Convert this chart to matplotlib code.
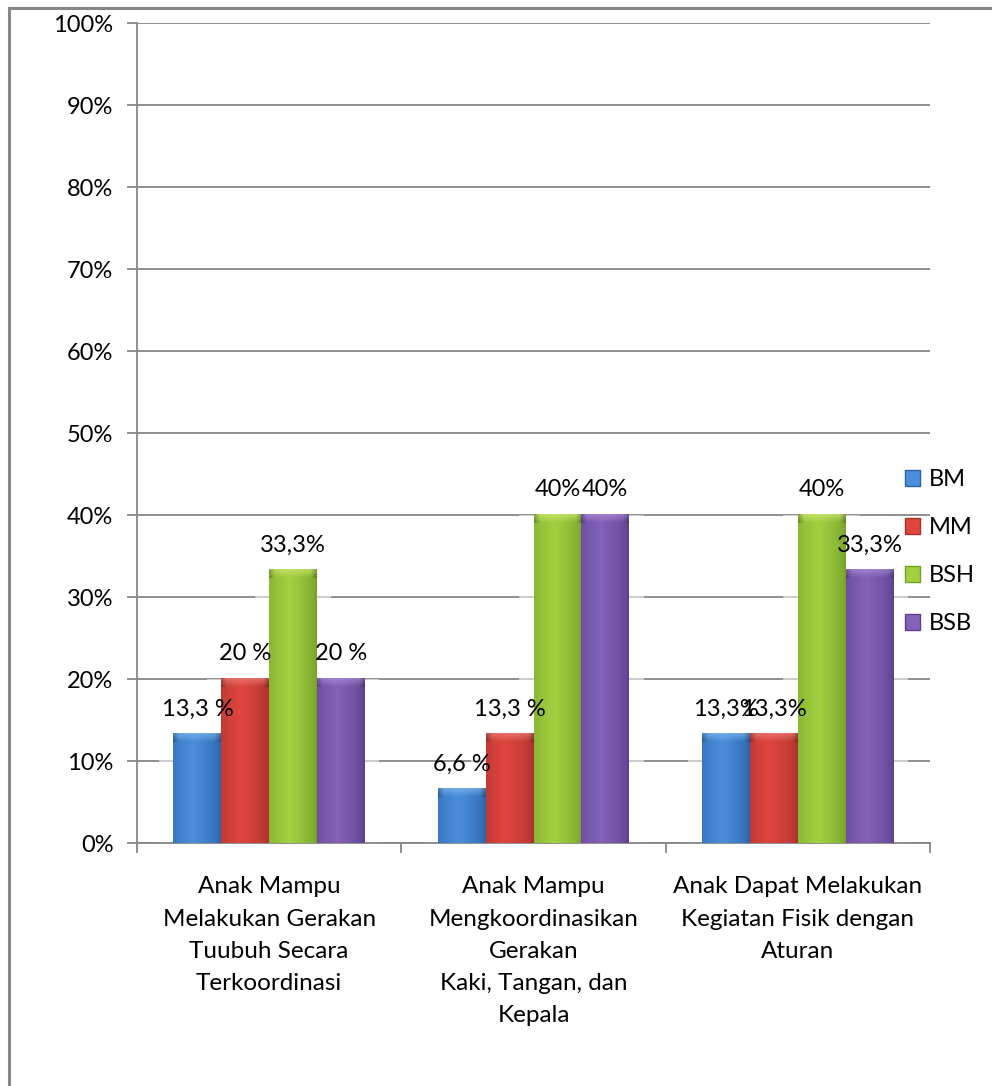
import numpy as np
import matplotlib.pyplot as plt
from matplotlib.patches import Patch, Rectangle
from matplotlib.lines import Line2D
from matplotlib.colors import to_rgb

plt.rcParams['font.family'] = ['Lato', 'DejaVu Sans']

categories = [
    'Anak Mampu\nMelakukan Gerakan\nTuubuh Secara\nTerkoordinasi',
    'Anak Mampu\nMengkoordinasikan\nGerakan\nKaki, Tangan, dan\nKepala',
    'Anak Dapat Melakukan\nKegiatan Fisik dengan\nAturan',
]
series = ['BM', 'MM', 'BSH', 'BSB']
bm  = [13.3, 6.6, 13.3]
mm  = [20.0, 13.3, 13.3]
bsh = [33.3, 40.0, 40.0]
bsb = [20.0, 40.0, 33.3]
values = [bm, mm, bsh, bsb]
labels = [
    ['13,3 %', '6,6 %', '13,3%'],
    ['20 %', '13,3 %', '13,3%'],
    ['33,3%', '40%', '40%'],
    ['20 %', '40%', '33,3%'],
]

# (edge, middle, cap) shades for each series
shades = [
    ('#2a62a8', '#4a8fdc', '#8cc0f0'),
    ('#a8302c', '#e0463f', '#f08c86'),
    ('#74a02a', '#a2d040', '#d4f07c'),
    ('#5c3f8a', '#8462b8', '#b496e4'),
]

fig = plt.figure(figsize=(9.92, 10.86), dpi=100)
ax = fig.add_axes([137/992, 243/1086, 793/992, 820/1086])

grey = '#878787'
fs = 17
w = 0.181
x = np.arange(len(categories))


def gradient_img(edge, mid, n=64):
    t = np.linspace(0, 1, n)
    prof = np.clip(1 - np.abs(t - 0.42) / 0.58, 0, 1) ** 0.6
    e = np.array(to_rgb(edge))
    m = np.array(to_rgb(mid))
    row = e[None, :] + (m - e)[None, :] * prof[:, None]
    return row[None, :, :]


def cap_img(edge, mid, cap, n=64, m=12):
    body = gradient_img(edge, mid, n)[0]
    c = np.array(to_rgb(cap))
    s = np.linspace(0, 1, m)[:, None, None]
    img = body[None, :, :] * (1 - 0.6 * s) + c[None, None, :] * (0.6 * s)
    # darker shoulders at the cap ends
    t = np.linspace(0, 1, n)
    side = np.clip(np.minimum(t, 1 - t) / 0.12, 0, 1)[None, :, None]
    return img * (0.75 + 0.25 * side)


cap_h = 1.0
for i, (vals, (edge, mid, cap)) in enumerate(zip(values, shades)):
    xs = x + (i - 1.5) * w
    bars = ax.bar(xs, vals, width=w, color='none', edgecolor='none', zorder=3)
    for b, v in zip(bars, vals):
        x0 = b.get_x()
        x1 = x0 + b.get_width()
        ax.add_patch(Rectangle((x0 - 0.3 * w, 0), 1.6 * w, v, facecolor='white',
                               edgecolor='none', alpha=0.55, zorder=1.5))
        ax.imshow(gradient_img(edge, mid), extent=(x0, x1, 0, v - cap_h),
                  aspect='auto', interpolation='bilinear', zorder=3)
        ax.imshow(cap_img(edge, mid, cap), extent=(x0, x1, v - cap_h, v),
                  aspect='auto', interpolation='bilinear', origin='lower', zorder=3)
    for xi, v, lab in zip(xs, vals, labels[i]):
        ax.annotate(lab, (xi, v), xytext=(0, 18), textcoords='offset points',
                    ha='center', va='center', fontsize=fs, zorder=5)

ax.set_xlim(-0.5, 2.5)
ax.set_ylim(0, 100)
ax.set_yticks(np.arange(0, 101, 10))
ax.set_yticklabels([f'{t}%' for t in range(0, 101, 10)], fontsize=fs)
ax.yaxis.grid(True, color=grey, linewidth=1.3, zorder=0)
ax.set_axisbelow(True)

ax.set_xticks([-0.5, 0.5, 1.5, 2.5])
ax.set_xticklabels([])
ax.set_xticks(x, minor=True)
ax.set_xticklabels(categories, minor=True, fontsize=17.5, linespacing=1.66)
ax.tick_params(axis='x', which='minor', length=0, pad=24)
ax.tick_params(axis='x', which='major', length=7, width=1.3, color=grey)
ax.tick_params(axis='y', length=7, width=1.3, color=grey, pad=10)

for s in ['top', 'right']:
    ax.spines[s].set_visible(False)
for s in ['left', 'bottom']:
    ax.spines[s].set_color(grey)
    ax.spines[s].set_linewidth(1.3)

handles = []
for name, (edge, mid, cap) in zip(series, shades):
    handles.append(Patch(facecolor=mid, edgecolor=edge, linewidth=1, label=name))
fig.legend(handles=handles, loc='upper left', bbox_to_anchor=(905/992, 1 - 469/1086),
           frameon=False, fontsize=fs, handlelength=0.65, handleheight=0.65,
           handletextpad=0.35, labelspacing=1.15, borderpad=0, borderaxespad=0)

# outer chart border
fig.add_artist(Line2D([9/992, 9/992], [0, 1 - 8/1086], color=grey, linewidth=2.2))
fig.add_artist(Line2D([9/992, 1], [1 - 8/1086, 1 - 8/1086], color=grey, linewidth=2.2))

fig.savefig('out.png', dpi=100)
